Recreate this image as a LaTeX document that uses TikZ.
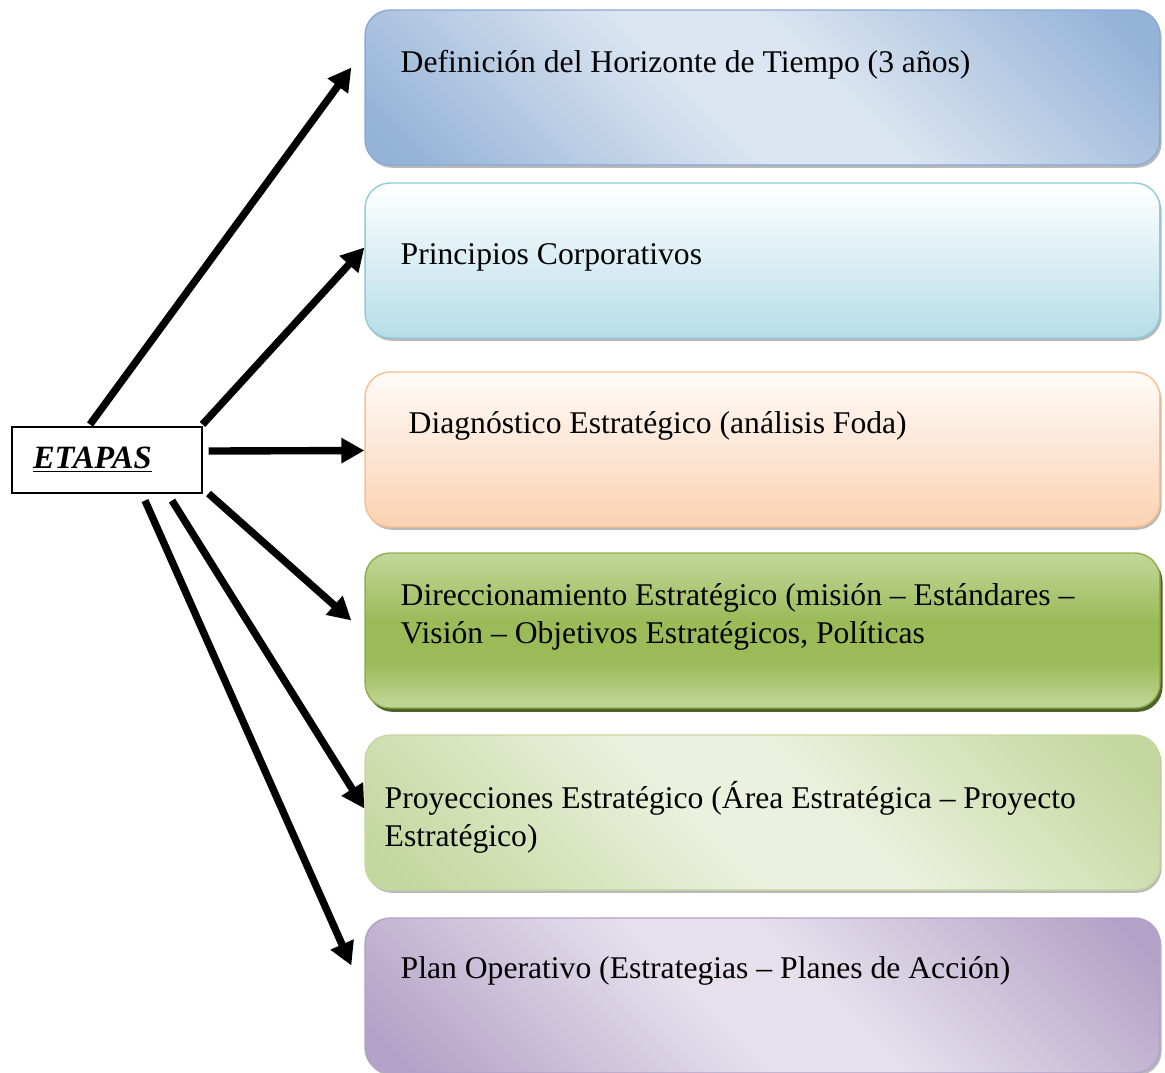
\documentclass[tikz,border=0pt]{standalone}
\usepackage{fontspec}
\setmainfont{Liberation Serif}
\usetikzlibrary{calc,arrows.meta,shadows}

\definecolor{azulOsc}{HTML}{95B3D7}
\definecolor{azulCla}{HTML}{DCE6F2}
\definecolor{azulBorde}{HTML}{88A9D6}
\definecolor{cianOsc}{HTML}{B6DDE8}
\definecolor{cianBorde}{HTML}{8FCBDA}
\definecolor{naranjaOsc}{HTML}{FAD2B2}
\definecolor{naranjaCla}{HTML}{FFFBF8}
\definecolor{naranjaBorde}{HTML}{F9BF8F}
\definecolor{verdeCla}{HTML}{C3D69B}
\definecolor{verdeOsc}{HTML}{9BBB59}
\definecolor{verdeBorde}{HTML}{8DB04C}
\definecolor{verdeSombra}{HTML}{4F6228}
\definecolor{limaOsc}{HTML}{C4D79E}
\definecolor{limaCla}{HTML}{EBF1DE}
\definecolor{moradoOsc}{HTML}{B3A2C7}
\definecolor{moradoCla}{HTML}{E5E0EC}

\pgfdeclarehorizontalshading{azulDiag}{100bp}{color(0bp)=(azulOsc); color(18bp)=(azulOsc); color(45bp)=(azulCla); color(55bp)=(azulCla); color(82bp)=(azulOsc); color(100bp)=(azulOsc)}
\pgfdeclarehorizontalshading{limaDiag}{100bp}{color(0bp)=(limaOsc); color(18bp)=(limaOsc); color(45bp)=(limaCla); color(55bp)=(limaCla); color(82bp)=(limaOsc); color(100bp)=(limaOsc)}
\pgfdeclarehorizontalshading{moradoDiag}{100bp}{color(0bp)=(moradoOsc); color(18bp)=(moradoOsc); color(45bp)=(moradoCla); color(55bp)=(moradoCla); color(82bp)=(moradoOsc); color(100bp)=(moradoOsc)}
\pgfdeclareverticalshading{verdeBanda}{100bp}{color(0bp)=(verdeCla); color(25bp)=(verdeCla); color(40bp)=(verdeOsc); color(53bp)=(verdeOsc); color(75bp)=(verdeCla); color(100bp)=(verdeCla)}

\tikzset{
  etapa/.style={draw, line width=0.8pt, rounded corners=0.5cm, minimum width=15.9cm,
    minimum height=3.1cm, inner sep=0pt,
    general shadow={fill=gray!55, shadow xshift=1pt, shadow yshift=-1.6pt}},
  texto/.style={anchor=west, inner sep=0pt, align=left, font=\fontsize{18}{21.6}\selectfont},
  flecha/.style={line width=4.2pt, -{Triangle[length=0.46cm,width=0.48cm]}}
}

\begin{document}
\begin{tikzpicture}[x=0.02cm, y=-0.02cm]
  \useasboundingbox (0,0) rectangle (1165,1072);

  %%%%% CAJAS %%%%%
  \node[etapa, draw=azulBorde, shading=azulDiag, shading angle=45] (b1) at (762.5, 87.5) {};
  \node[etapa, draw=cianBorde, top color=white, bottom color=cianOsc] (b2) at (762.5, 260.5) {};
  \node[etapa, draw=naranjaBorde, top color=naranjaCla, bottom color=naranjaOsc] (b3) at (762.5, 449.5) {};
  \node[etapa, draw=verdeBorde, shading=verdeBanda,
    general shadow={fill=verdeSombra, shadow xshift=1.5pt, shadow yshift=-2.2pt}] (b4) at (762.5, 630.5) {};
  \node[etapa, draw=limaOsc, shading=limaDiag, shading angle=45] (b5) at (762.5, 812.5) {};
  \node[etapa, draw=moradoOsc, shading=moradoDiag, shading angle=45] (b6) at (762.5, 995.5) {};

  %%%%% TEXTOS %%%%%
  \node[texto] (t1) at ($(b1.west)+(36,-23)$) {Definición del Horizonte de Tiempo (3 años)};
  \node[texto] (t2) at ($(b2.west)+(36,-3)$) {Principios Corporativos};
  \node[texto] (t3) at ($(b3.west)+(44,-24)$) {Diagnóstico Estratégico (análisis Foda)};
  \node[texto] (t4) at ($(b4.west)+(36,-14)$) {Direccionamiento Estratégico (misión – Estándares –\\Visión – Objetivos Estratégicos, Políticas};
  \node[texto] (t5) at ($(b5.west)+(20,5)$) {Proyecciones Estratégico (Área Estratégica – Proyecto\\Estratégico)};
  \node[texto] (t6) at ($(b6.west)+(36,-25)$) {Plan Operativo (Estrategias – Planes de Acción)};

  %%%%% ETAPAS %%%%%
  \node[draw, line width=0.6pt, minimum width=3.8cm, minimum height=1.32cm, text width=2.96cm,
    inner xsep=0.42cm, align=left, font=\fontsize{18.5}{21.6}\selectfont] (etapas) at (107, 460)
    {\underline{\textbf{\textit{ETAPAS}}}};

  %%%%% FLECHAS %%%%%
  \draw[flecha] ($(etapas.north)+(-17,-2)$) -- ($(b1.west)+(-13,-20)$);
  \draw[flecha] ($(etapas.north east)+(0,-2)$) -- ($(b2.west)+(0,-13)$);
  \draw[flecha] ($(etapas.east)+(6,-9)$) -- ($(b3.west)+(0,1)$);
  \draw[flecha] ($(etapas.south east)+(6,0)$) -- ($(b4.west)+(-13,-10)$);
  \draw[flecha] ($(etapas.south)+(65,7)$) -- ($(b5.west)+(0,-4)$);
  \draw[flecha] ($(etapas.south)+(38,7)$) -- ($(b6.west)+(-13,-30)$);
\end{tikzpicture}
\end{document}
